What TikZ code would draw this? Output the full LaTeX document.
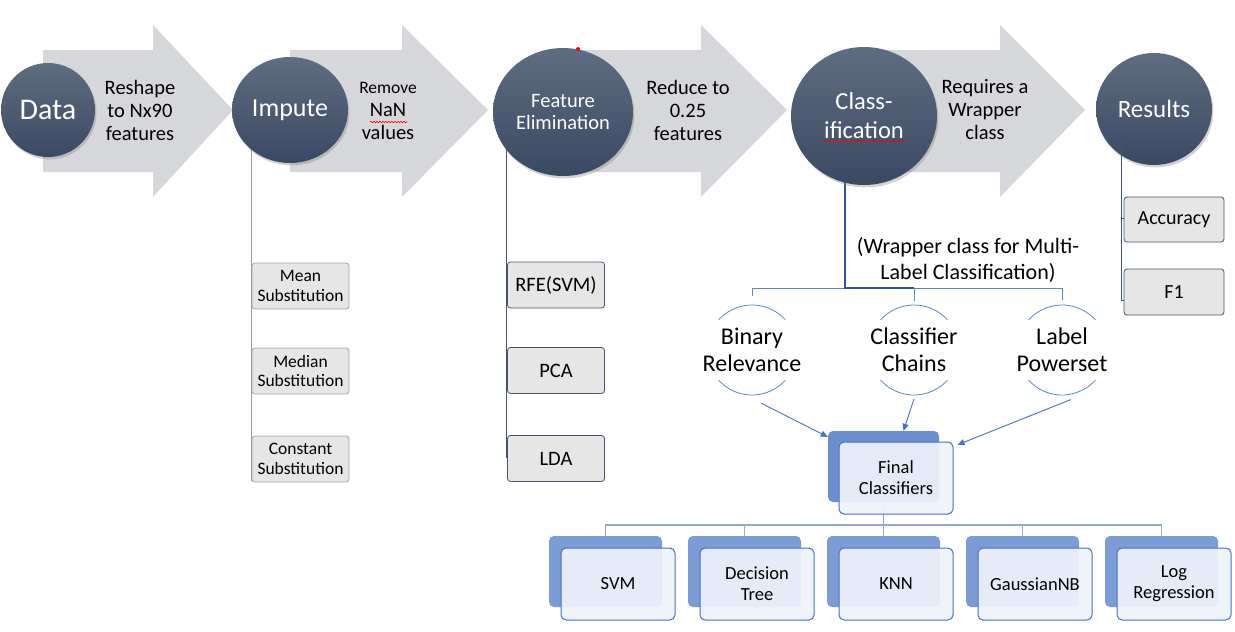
\documentclass[tikz,border=0pt]{standalone}
\usepackage{fontspec}
\setmainfont{Carlito}
\usetikzlibrary{shapes.geometric,shadows,arrows.meta,decorations.pathmorphing}
\definecolor{arrgray}{HTML}{D6D7DA}
\definecolor{circtop}{HTML}{5F6D82}
\definecolor{circbot}{HTML}{3A4963}
\definecolor{boxfill}{HTML}{E6E6E6}
\definecolor{boxgray}{HTML}{A6A6A6}
\definecolor{slate}{HTML}{44546A}
\definecolor{accblue}{HTML}{4472C4}
\definecolor{lineblue}{HTML}{5B87C5}
\definecolor{busblue}{HTML}{8EA9DB}
\definecolor{backblue}{HTML}{7B9CD6}
\definecolor{finback}{HTML}{6A8ECF}
\definecolor{frontfill}{HTML}{EEF2FA}
\definecolor{clsline}{HTML}{2F5597}
\begin{document}
\begin{tikzpicture}[x=1pt,y=-1pt,
  bigcirc/.style={ellipse, top color=circtop, bottom color=circbot, draw=none, text=white,
    drop shadow={shadow xshift=1.5pt,shadow yshift=-2.5pt,opacity=0.35}, align=center, inner sep=0pt},
  arrtext/.style={align=center, font=\fontsize{20.5}{23}\selectfont, inner sep=0pt},
  greybox/.style={rounded corners=3pt, fill=boxfill, draw=boxgray, line width=0.8pt, minimum width=97pt, minimum height=46pt, align=center, inner sep=1pt, font=\fontsize{17.5}{19.5}\selectfont},
  slatebox/.style={greybox, draw=slate, font=\fontsize{20.5}{22}\selectfont},
  method/.style={circle, minimum size=90pt, align=center, inner sep=0pt, font=\fontsize{24}{27}\selectfont},
  arcst/.style={draw=lineblue, line width=0.8pt},
  backbox/.style={rounded corners=5pt, fill=backblue, draw=none, minimum width=113pt, minimum height=71pt},
  frontbox/.style={rounded corners=5pt, fill=frontfill, fill opacity=0.93, text opacity=1, draw=accblue, line width=1pt, minimum width=114pt, minimum height=72pt, align=center, font=\fontsize{18.5}{21}\selectfont},
  bluearrow/.style={draw=accblue, line width=0.9pt, -{Triangle[length=7pt,width=6pt]}},
  spell/.style={draw=red, line width=0.6pt, decorate, decoration={snake, amplitude=0.8pt, segment length=3pt}}
]
\useasboundingbox (0,0) rectangle (1235,632);

% chevron arrows
\fill[arrgray] (43,50) -- (153,50) -- (153,25) -- (233,110) -- (153,197) -- (153,172) -- (43,172) -- cycle;
\fill[arrgray] (290,50) -- (402,50) -- (402,25) -- (488,110) -- (402,197) -- (402,172) -- (290,172) -- cycle;
\fill[arrgray] (560,50) -- (701,50) -- (701,25) -- (787,110) -- (701,197) -- (701,172) -- (560,172) -- cycle;
\fill[arrgray] (864,50) -- (1000,50) -- (1000,25) -- (1085,110) -- (1000,197) -- (1000,172) -- (864,172) -- cycle;

% arrow texts
\node[arrtext] (t1) at (140,110) {Reshape\\to Nx90\\features};
\node[arrtext] (t2) at (388,111) {{\fontsize{17.5}{19}\selectfont Remove}\\NaN\\values};
\node[arrtext] (t3) at (688,110) {Reduce to\\0.25\\features};
\node[arrtext] (t4) at (985,110) {Requires a\\Wrapper\\class};
\coordinate (nanA) at (370,122);
\coordinate (nanB) at (407,122);
\draw[spell] (nanA) -- (nanB);

% branch lines behind circles
\coordinate (impTop) at (251,140);
\coordinate (impBot) at (251,481);
\draw[draw=gray!80, line width=1pt] (impTop) -- (impBot);
\coordinate (feaTop) at (506,140);
\coordinate (feaBot) at (506,458);
\draw[draw=slate, line width=1pt] (feaTop) -- (feaBot);
\coordinate (clsTop) at (845,170);
\coordinate (clsBend) at (845,288);
\coordinate (busL) at (752,288);
\coordinate (busM) at (914,288);
\coordinate (busR) at (1062,288);
\draw[draw=lineblue, line width=0.9pt] (busL) -- (busR);
\draw[draw=clsline, line width=1.4pt] (clsTop) -- (clsBend) -- (busM);

% circles
\node[bigcirc, minimum width=94pt, minimum height=94pt, font=\fontsize{30}{32}\selectfont] (data) at (48,110) {Data};
\node[bigcirc, minimum width=116pt, minimum height=106pt, font=\fontsize{26}{28}\selectfont] (impute) at (290,110) {Impute};
\node[bigcirc, minimum width=140pt, minimum height=128pt, font=\fontsize{20.5}{22}\selectfont] (feat) at (563,112) {Feature\\Elimination};
\node[bigcirc, minimum width=146pt, minimum height=138pt, font=\fontsize{24.5}{29}\selectfont] (cls) at (864,116) {Class-\\ification};
\node[bigcirc, minimum width=116pt, minimum height=112pt, font=\fontsize{25}{27}\selectfont] (res) at (1154,109) {Results};
\coordinate (dotA) at (578,49);
\fill[red] (dotA) circle (2pt);
\coordinate (ifA) at (824,141);
\coordinate (ifB) at (905,141);
\draw[spell] (ifA) -- (ifB);

% results branch (on top of circle)
\coordinate (resTop) at (1121,137);
\coordinate (resMid) at (1121,218);
\coordinate (resMidEnd) at (1125,218);
\coordinate (resBot) at (1121,300);
\coordinate (resEnd) at (1126,300);
\draw[draw=slate, line width=0.9pt] (resTop) -- (resBot) -- (resEnd);
\draw[draw=slate, line width=0.9pt] (resMid) -- (resMidEnd);

% impute boxes
\node[greybox] (mean) at (300.5,286) {Mean\\Substitution};
\node[greybox] (median) at (300.5,371) {Median\\Substitution};
\node[greybox] (const) at (300.5,459) {Constant\\Substitution};

% feature boxes
\node[slatebox] (rfe) at (556,285) {RFE(SVM)};
\node[slatebox] (pca) at (556,370.5) {PCA};
\node[slatebox] (lda) at (556,458.5) {LDA};

% result boxes
\node[slatebox, minimum width=100pt, minimum height=45pt, font=\fontsize{20}{22}\selectfont] (acc) at (1174,219.5) {Accuracy};
\node[slatebox, minimum width=100pt, minimum height=46pt, font=\fontsize{20}{22}\selectfont] (f1) at (1174,292) {F1};

% wrapper text
\node[align=center, inner sep=0pt, font=\fontsize{22}{26}\selectfont] (wrap) at (968,260) {(Wrapper class for Multi-\\Label Classification)};

% methods
\node[method] (br) at (752,350) {Binary\\Relevance};
\node[method] (cc) at (914,350) {Classifier\\Chains};
\node[method] (lp) at (1062,350) {Label\\Powerset};
\foreach \m in {br,cc,lp}{
  \draw[arcst] (\m.center) ++(-138:45) arc[start angle=-138, end angle=-42, radius=45];
  \draw[arcst] (\m.center) ++(42:45) arc[start angle=42, end angle=138, radius=45];
}
\draw[draw=lineblue, line width=0.9pt] (busL) -- (br.north);
\draw[draw=lineblue, line width=0.9pt] (busM) -- (cc.north);
\draw[draw=lineblue, line width=0.9pt] (busR) -- (lp.north);

% final classifiers
\coordinate (busY) at (0,525);
\node[backbox, fill=finback, minimum width=111pt] (finb) at (883.5,466.5) {};
\draw[draw=busblue, line width=1.2pt] (finb.center) -- (finb.center |- busY);
\node[frontbox] (finf) at (896,478) {Final\\Classifiers};

\draw[bluearrow] (br.-80) -- (finb.152);
\draw[bluearrow] (cc.-90) -- ([xshift=20pt]finb.north);
\draw[bluearrow] (lp.-80) -- ([xshift=4pt]finf.30);

% bottom classifiers
\foreach \i in {0,...,4}{
  \node[backbox] (b\i) at (605.5+139*\i,571.5) {};
}
\draw[draw=busblue, line width=1.2pt] (b0.north) -- (b0.north |- busY) -- (b4.north |- busY) -- (b4.north);
\foreach \i in {1,2,3}{
  \draw[draw=busblue, line width=1.2pt] (b\i.north) -- (b\i.north |- busY);
}
\foreach \i/\t in {0/SVM,1/{Decision\\Tree},2/KNN,3/GaussianNB,4/{Log\\Regression}}{
  \node[frontbox] (f\i) at (618+139*\i,584) {\t};
}
\end{tikzpicture}
\end{document}
